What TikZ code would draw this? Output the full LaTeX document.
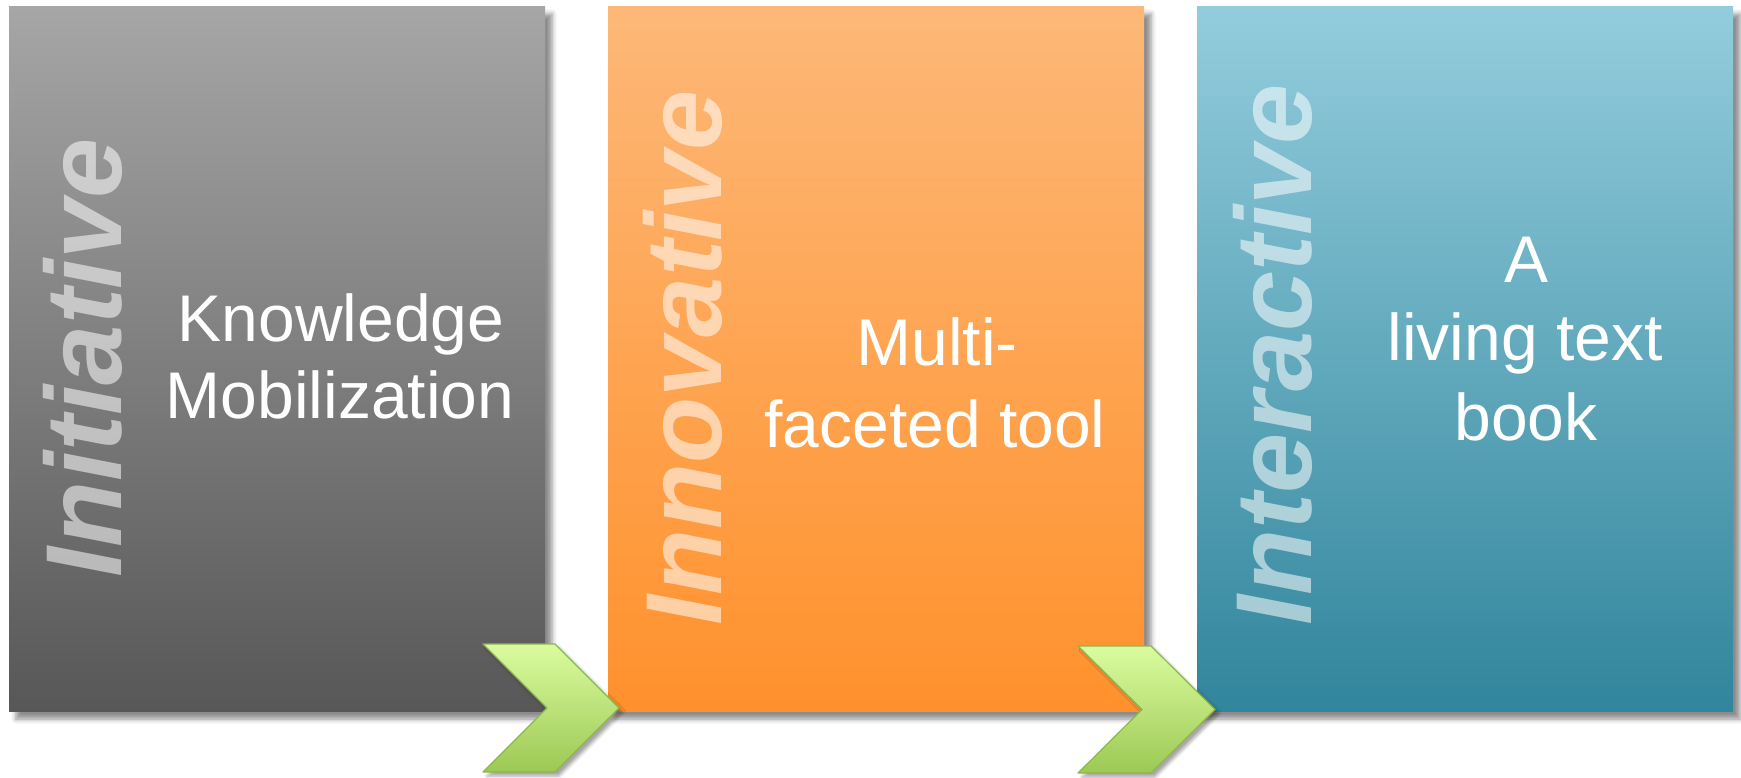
\documentclass[tikz,border=0pt]{standalone}
\usepackage{fontspec}
\setmainfont{Liberation Sans}
\usetikzlibrary{shadows.blur}
\definecolor{grayTop}{HTML}{A6A6A6}
\definecolor{grayBot}{HTML}{575757}
\definecolor{orTop}{HTML}{FDB878}
\definecolor{orBot}{HTML}{FF912C}
\definecolor{tlTop}{HTML}{93CDDD}
\definecolor{tlBot}{HTML}{31859C}
\definecolor{chTop}{HTML}{DAFC9E}
\definecolor{chBot}{HTML}{9CC955}
\definecolor{chLine}{HTML}{8DB64E}
\begin{document}
\begin{tikzpicture}[x=1pt,y=1pt,
  panel/.style={draw=none, inner sep=0pt, outer sep=0pt, minimum width=536pt, minimum height=705pt,
    anchor=north west, shading=axis,
    blur shadow={shadow xshift=7pt, shadow yshift=-8pt, shadow blur radius=5pt, shadow opacity=45}},
  chev/.style={draw=chLine, line width=1.2pt, line join=round, top color=chTop, bottom color=chBot,
    blur shadow={shadow xshift=4pt, shadow yshift=-4pt, shadow blur radius=3pt, shadow opacity=35}},
  vword/.style={rotate=90, anchor=base, inner sep=0pt, text=white, text opacity=0.55,
    font=\fontsize{108}{114}\selectfont\bfseries\itshape},
  label/.style={anchor=base, inner sep=0pt, text=white,
    font=\fontsize{66}{78}\selectfont}
]
\useasboundingbox (0,0) rectangle (1741,-777);

% panels
\node[panel, top color=grayTop, bottom color=grayBot] (p1) at (9,-6) {};
\node[panel, top color=orTop, bottom color=orBot] (p2) at (608,-6) {};
\node[panel, top color=tlTop, bottom color=tlBot] (p3) at (1197,-6) {};

% vertical words
\node[vword] (w1) at (121,-358) {Initiative};
\node[vword] (w2) at (721,-358) {Innovative};
\node[vword] (w3) at (1311,-355) {Interactive};

% labels
\node[label] (k1) at (341,-341) {Knowledge};
\node[label] (k2) at (340,-418) {Mobilization};
\node[label] (m1) at (937,-365) {Multi-};
\node[label] (m2) at (935,-447) {faceted tool};
\node[label] (a1) at (1526,-282) {A};
\node[label] (a2) at (1525,-360) {living text};
\node[label] (a3) at (1526,-440) {book};

% chevrons
\path[chev] (483,-644) -- (555,-644) -- (619,-708) -- (555,-772) -- (483,-772) -- (547,-708) -- cycle;
\path[chev] (1078,-646) -- (1151,-646) -- (1215,-709.5) -- (1151,-773) -- (1078,-773) -- (1142,-709.5) -- cycle;
\end{tikzpicture}
\end{document}
